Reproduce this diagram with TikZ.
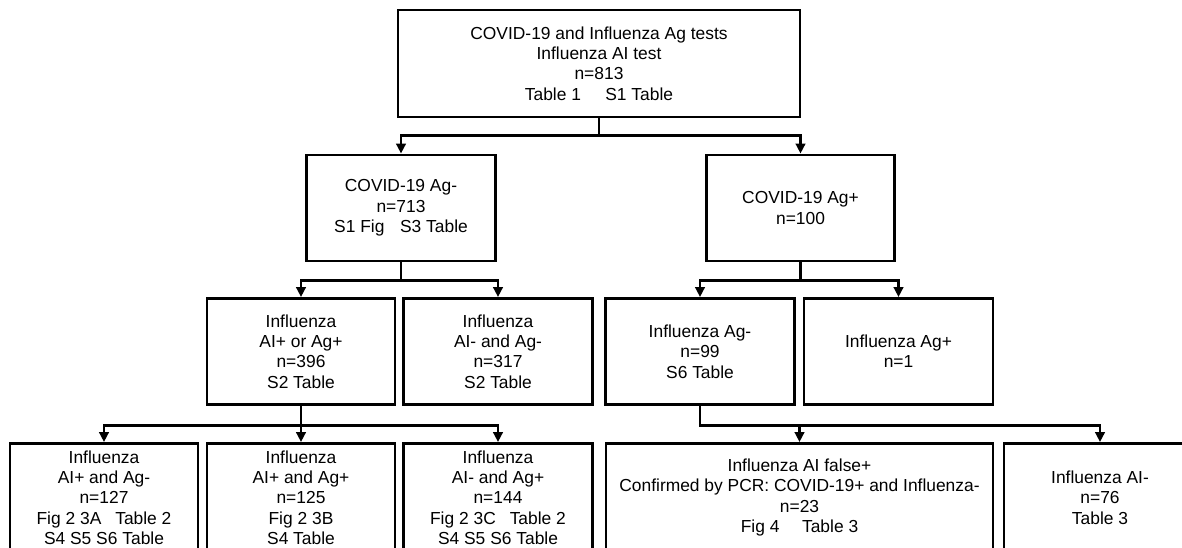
\documentclass[tikz,border=0pt]{standalone}
\usepackage{fontspec}
\setmainfont{Liberation Sans}
\usetikzlibrary{arrows.meta}
\begin{document}
\begin{tikzpicture}[x=1pt,y=-1pt,
  box/.style={draw, line width=2.9pt, rectangle, align=center, inner sep=0pt,
    font=\fontsize{17.4}{20.3}\selectfont},
  conn/.style={line width=2.7pt, -{Triangle[length=10pt,width=9.5pt]}}]
\useasboundingbox (0,0) rectangle (1182,547);
\clip (0,0) rectangle (1182,547);
\fill[white] (0,0) rectangle (1182,547);
% row 1
\node[box, minimum width=402pt, minimum height=107pt] (top) at (599,63.5)
  {COVID-19 and Influenza Ag tests\\Influenza AI test\\n=813\\Table 1\hspace{1.4em}S1 Table};
% row 2
\node[box, minimum width=189pt, minimum height=106pt] (agneg) at (401,208)
  {COVID-19 Ag-\\n=713\\S1 Fig\hspace{0.9em}S3 Table};
\node[box, minimum width=188pt, minimum height=106pt] (agpos) at (800.5,208)
  {COVID-19 Ag+\\n=100};
% row 3
\node[box, minimum width=188pt, minimum height=106pt] (aiorag) at (301,351.5)
  {Influenza\\AI+ or Ag+\\n=396\\S2 Table};
\node[box, minimum width=189pt, minimum height=106pt] (aiandag) at (498,351.5)
  {Influenza\\AI- and Ag-\\n=317\\S2 Table};
\node[box, minimum width=189pt, minimum height=106pt] (flun) at (700,351.5)
  {Influenza Ag-\\n=99\\S6 Table};
\node[box, minimum width=189pt, minimum height=106pt] (flup) at (898.5,351.5)
  {Influenza Ag+\\n=1};
% row 4
\node[box, minimum width=188pt, minimum height=108pt] (ra) at (104,497.5)
  {Influenza\\AI+ and Ag-\\n=127\\Fig 2 3A\hspace{0.8em}Table 2\\S4 S5 S6 Table};
\node[box, minimum width=188pt, minimum height=108pt] (rb) at (301,497.5)
  {Influenza\\AI+ and Ag+\\n=125\\Fig 2 3B\\S4 Table};
\node[box, minimum width=189pt, minimum height=108pt] (rc) at (498,497.5)
  {Influenza\\AI- and Ag+\\n=144\\Fig 2 3C\hspace{0.8em}Table 2\\S4 S5 S6 Table};
\node[box, minimum width=387pt, minimum height=108pt] (rd) at (799.5,497.5)
  {Influenza AI false+\\Confirmed by PCR: COVID-19+ and Influenza-\\n=23\\Fig 4\hspace{1.3em}Table 3};
\node[box, minimum width=192pt, minimum height=108pt] (re) at (1100,497.5)
  {Influenza AI-\\n=76\\Table 3};
% connectors
\draw[conn] (top.south) -- ++(0,17) -| (agneg.north);
\draw[conn] (top.south) -- ++(0,17) -| (agpos.north);
\draw[conn] (agneg.south) -- ++(0,18) -| (aiorag.north);
\draw[conn] (agneg.south) -- ++(0,18) -| (aiandag.north);
\draw[conn] (agpos.south) -- ++(0,18) -| (flun.north);
\draw[conn] (agpos.south) -- ++(0,18) -| (flup.north);
\draw[conn] (aiorag.south) -- ++(0,19.5) -| (ra.north);
\draw[conn] (aiorag.south) -- ++(0,19.5) -| (rb.north);
\draw[conn] (aiorag.south) -- ++(0,19.5) -| (rc.north);
\draw[conn] (flun.south) -- ++(0,19.5) -| (rd.north);
\draw[conn] (flun.south) -- ++(0,19.5) -| (re.north);
\end{tikzpicture}
\end{document}
